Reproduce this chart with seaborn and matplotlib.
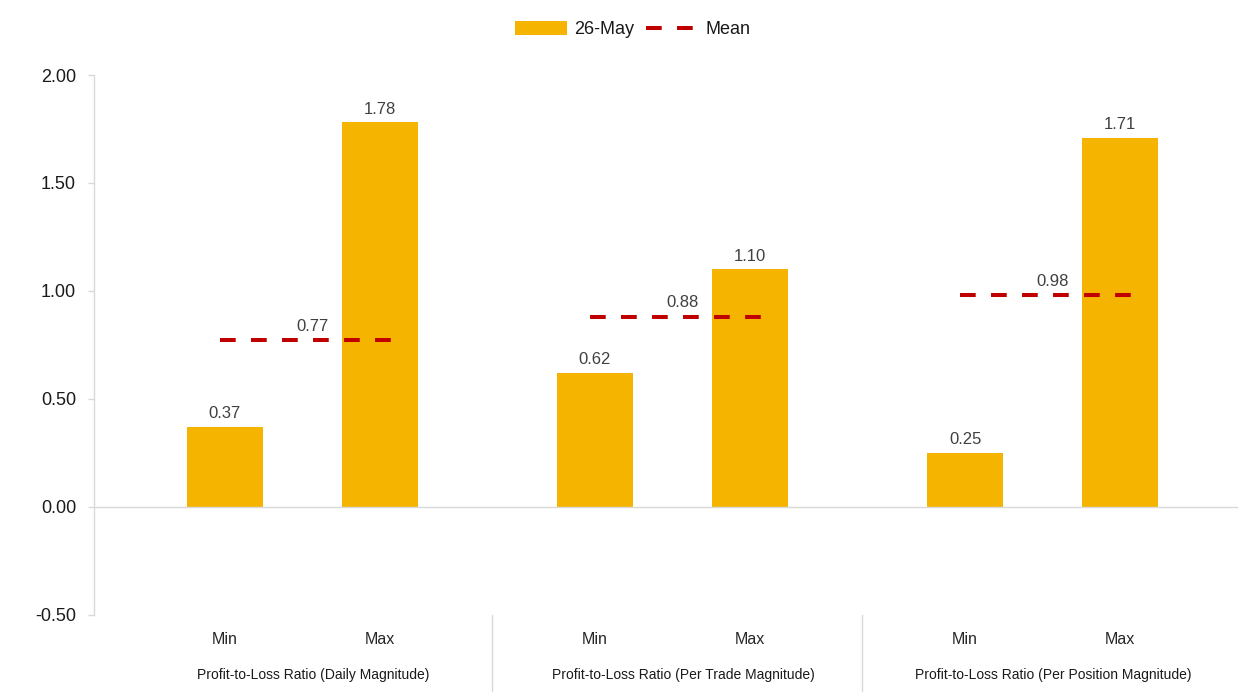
import matplotlib
matplotlib.use("Agg")
import matplotlib.pyplot as plt
import matplotlib.transforms as mtransforms
from matplotlib.patches import Patch
from matplotlib.lines import Line2D
import seaborn as sns
import pandas as pd

# ---- data ----
groups = ["Profit-to-Loss Ratio (Daily Magnitude)",
          "Profit-to-Loss Ratio (Per Trade Magnitude)",
          "Profit-to-Loss Ratio (Per Position Magnitude)"]
stats = ["Min", "Max"]
min_values = [0.37, 0.62, 0.25]
max_values = [1.78, 1.10, 1.71]
mean_values = [0.77, 0.88, 0.98]
series_label = "26-May"
mean_label = "Mean"
y_ticks = [-0.5, 0.0, 0.5, 1.0, 1.5, 2.0]

GOLD = "#F5B400"
RED = "#C00000"
GRID = "#D9D9D9"

sns.set_theme(style="white")
plt.rcParams["font.family"] = ["Liberation Sans", "DejaVu Sans"]

rows = []
for g, mn, mx in zip(groups, min_values, max_values):
    rows.append({"group": g, "stat": "Min", "value": mn})
    rows.append({"group": g, "stat": "Max", "value": mx})
df = pd.DataFrame(rows)

fig = plt.figure(figsize=(12.38, 6.95), dpi=100)
ax = fig.add_axes([94 / 1238, 1 - 614.5 / 695, 1 - 94 / 1238, (614.5 - 75) / 695])

sns.barplot(data=df, x="group", y="value", hue="stat", order=groups,
            hue_order=stats, palette=[GOLD, GOLD], saturation=1,
            width=0.838, gap=0.511, dodge=True, legend=False,
            linewidth=0, ax=ax)

# value labels
for cont in ax.containers:
    ax.bar_label(cont, fmt="%.2f", padding=4, fontsize=12, color="#404040")

# x tick labels at bar centres
positions, labels = [], []
for gi in range(len(groups)):
    for si, s in enumerate(stats):
        p = ax.containers[si].patches[gi]
        positions.append(p.get_x() + p.get_width() / 2)
        labels.append(s)
ax.set_xticks(positions)
ax.set_xticklabels(labels)

# mean lines
for gi, m in enumerate(mean_values):
    ax.plot([gi - 0.2225, gi + 0.242], [m, m], color=RED, lw=2.9,
            linestyle=(0, (3.9, 3.8)), solid_capstyle="butt",
            dash_capstyle="butt", zorder=3)
    ax.annotate(f"{m:.2f}", (gi + 0.028, m), xytext=(0, 10),
                textcoords="offset points", ha="center", va="center",
                fontsize=12, color="#404040")

ax.axhline(0, color=GRID, lw=1, zorder=1)

ax.set_ylim(-0.5, 2.0)
ax.set_xlim(-0.5635, 2.528)
ax.set_yticks(y_ticks)
ax.set_yticklabels([f"{v:.2f}" for v in y_ticks])
ax.set_xlabel("")
ax.set_ylabel("")

for side in ["top", "right", "bottom"]:
    ax.spines[side].set_visible(False)
ax.spines["left"].set_color(GRID)
ax.spines["left"].set_linewidth(1)

ax.tick_params(axis="y", length=4.3, width=1, color=GRID, labelcolor="#1a1a1a",
               pad=8.6, labelsize=13, left=True)
ax.tick_params(axis="x", length=0, pad=12.5, labelsize=11.5, labelcolor="#262626")

# group labels and separators
trans = mtransforms.blended_transform_factory(ax.transData, ax.transAxes)
for gi, g in enumerate(groups):
    ax.text(gi + 0.028, -0.1121, g, transform=trans, ha="center", va="center",
            fontsize=10, color="#1a1a1a")
for xs in [0.512, 1.512]:
    ax.plot([xs, xs], [0, -0.142], transform=trans, color=GRID, lw=1,
            clip_on=False)

handles = [Patch(facecolor=GOLD, edgecolor="none", label=series_label),
           Line2D([0], [0], color=RED, lw=2.9, linestyle=(0, (3.9, 3.8)),
                  label=mean_label)]
fig.legend(handles=handles, loc="center", bbox_to_anchor=(0.511, 0.957),
           ncol=2, frameon=False, fontsize=13, handlelength=2.85,
           handleheight=0.8, handletextpad=0.4, columnspacing=0.7,
           labelcolor="#1a1a1a")

fig.savefig("out.png", dpi=100)
